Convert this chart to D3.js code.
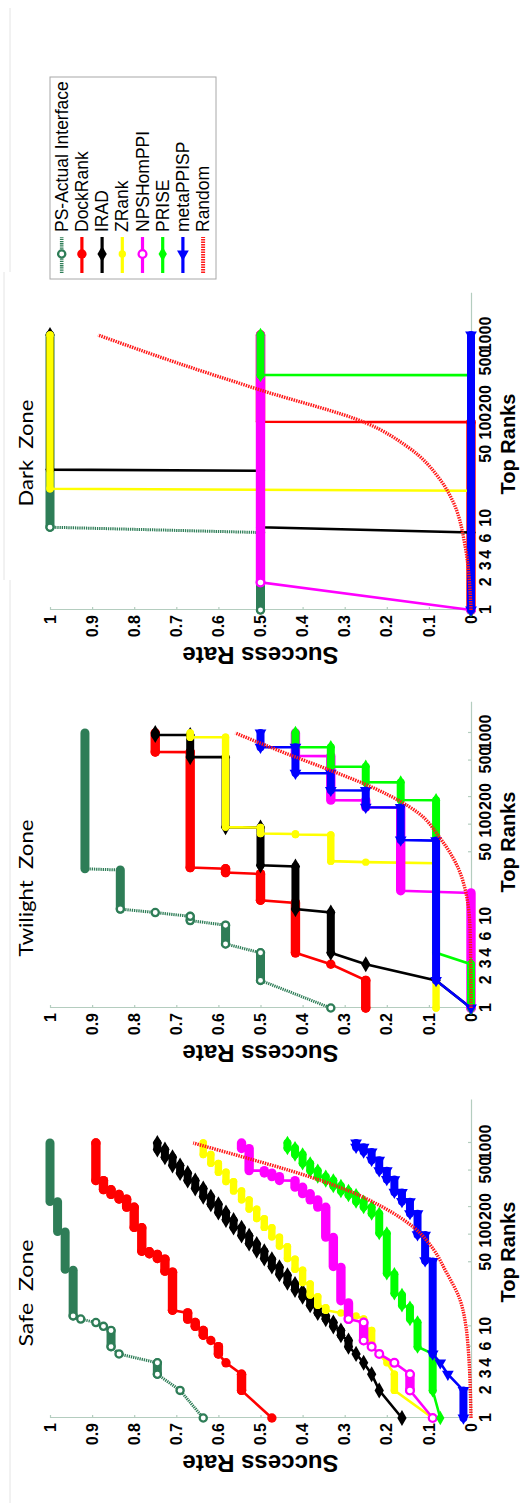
<!DOCTYPE html>
<html>
<head>
<meta charset="utf-8">
<script src="https://cdn.jsdelivr.net/npm/d3@7"></script>
<style>
  body { margin: 0; background: #fff; }
  svg { display: block; }
</style>
</head>
<body>
<div class="canvas"></div>
<script>
// methods, in legend / drawing order
const methods = ["PS-Actual Interface", "DockRank", "IRAD", "ZRank", "NPSHomPPI", "PRISE", "metaPPISP", "Random"];
const rankTicks = [1, 2, 3, 4, 6, 10, 50, 100, 200, 500, 1000];
const rateTicks = [0, 0.1, 0.2, 0.3, 0.4, 0.5, 0.6, 0.7, 0.8, 0.9, 1];
const maxRank = 1000;

// each series: [rank where a new success rate starts, success rate]
const safePS = [[1, .636], [2, .691], [3, .745], [5, .836], [6, .855], [10, .873], [11, .891], [12, .927], [13, .945], [42, .964], [108, .982], [230, 1]];
const safeDock = [[1, .473], [2, .545], [4, .582], [5, .6], [7, .618], [8, .636], [10, .655], [12, .673], [15, .709], [40, .727], [55, .745], [62, .764], [66, .782], [120, .8], [200, .818], [245, .836], [275, .855], [310, .873], [390, .891]];
const safeIRAD = [[1, .164], [2, .218], [3, .236], [4, .255], [5, .273], [6, .291], [8, .309], [10, .327], [12, .345], [14, .364], [17, .382], [21, .4], [25, .418], [30, .436], [37, .455], [45, .473], [55, .491], [67, .509], [80, .527], [98, .545], [120, .564], [145, .582], [175, .6], [215, .618], [260, .636], [320, .655], [390, .673], [470, .691], [570, .709], [700, .727], [850, .745]];
const safeZ = [[1, .091], [2, .182], [4, .2], [5, .218], [6, .236], [10, .255], [13, .273], [14, .309], [15, .345], [17, .364], [22, .382], [30, .4], [42, .418], [55, .436], [75, .455], [95, .473], [120, .491], [150, .509], [190, .527], [240, .545], [300, .564], [380, .582], [480, .6], [600, .618], [750, .636]];
const safeNPS = [[1, .091], [2, .145], [4, .182], [5, .218], [6, .236], [7, .255], [12, .291], [19, .309], [45, .327], [94, .345], [200, .364], [240, .382], [280, .4], [330, .418], [390, .455], [430, .473], [470, .491], [500, .527], [870, .545]];
const safePRISE = [[1, .073], [2, .091], [6, .127], [12, .145], [17, .164], [23, .182], [38, .2], [104, .218], [170, .236], [200, .255], [230, .273], [270, .291], [300, .309], [340, .327], [390, .345], [430, .364], [500, .382], [600, .4], [750, .418], [880, .436]];
const safeMeta = [[1, .018], [3, .055], [4, .073], [5, .091], [52, .109], [100, .127], [170, .145], [230, .164], [290, .182], [400, .2], [500, .218], [650, .236], [800, .255], [900, .273]];
const safeRandom = [[1, 0], [6, .007], [10, .012], [20, .027], [40, .06], [70, .09], [120, .136], [200, .21], [300, .29], [500, .43], [700, .54], [1000, .66]];

const twPS = [[1, .333], [2, .5], [5, .583], [9, .667], [11, .75], [12, .833], [33, .917]];
const twDock = [[1, .25], [3, .333], [4, .417], [15, .5], [30, .583], [34, .667], [620, .75]];
const twIRAD = [[1, 0], [2, .083], [3, .25], [4, .333], [12, .417], [36, .5], [94, .583], [546, .667], [950, .75]];
const twZ = [[1, .083], [39, .25], [40, .333], [78, .417], [80, .5], [94, .583], [900, .667]];
const twNPS = [[1, 0], [19, .167], [155, .25], [185, .333], [560, .417]];
const twPRISE = [[1, 0], [4, .083], [186, .167], [290, .25], [430, .333], [700, .417]];
const twMeta = [[1, 0], [2, .083], [68, .167], [155, .25], [237, .333], [365, .417], [700, .5]];
const twRandom = [[1, 0], [7, .002], [25, .02], [73, .075], [134, .125], [250, .23], [393, .335], [600, .44], [1000, .56]];

const dkPS = [[1, .5], [8, 1]];
const dkDock = [[1, 0], [113, .5]];
const dkIRAD = [[1, 0], [8, .5], [34, 1]];
const dkZ = [[1, 0], [21, 1]];
const dkNPS = [[1, 0], [2, .5]];
const dkPRISE = [[1, 0], [366, .5]];
const dkMeta = [[1, 0]];
const dkRandom = [[1, 0], [5, .014], [16, .045], [26, .072], [60, .15], [110, .25], [251, .5], [500, .7], [1000, .886]];

const styles = [
  {color: "#2e7d57", shape: "ring", r: 3.6, band: 9, width: 3, dash: "1.3,0.9"},
  {color: "#ff0000", shape: "circle", r: 4.7, band: 9.4, width: 2.6},
  {color: "#000000", shape: "diamond", size: 75, band: 8, width: 2.6},
  {color: "#ffff00", shape: "circle", r: 3.7, band: 7.4, width: 2.6},
  {color: "#ff00ff", shape: "ring", r: 3.9, band: 9.4, width: 2.6},
  {color: "#00ff00", shape: "diamond", size: 60, band: 8, width: 2.6},
  {color: "#0000ff", shape: "triangle", size: 60, band: 8, width: 2.6}
];
const randomStyle = {color: "#ff1a1a", width: 3.4, dash: "1.5,1"};

// the original figure is laid out left to right, then turned a quarter turn
const W = 1503;
const decade = 91.67;
const axisColor = "#b4cdbf";

const panels = [
  {title: "Safe  Zone", titleX: 210, titleLen: 107, x0: 85, xEnd: 2950, series: [safePS, safeDock, safeIRAD, safeZ, safeNPS, safePRISE, safeMeta], random: safeRandom},
  {title: "Twilight  Zone", titleX: 615, titleLen: 137, x0: 495, xEnd: 2170, series: [twPS, twDock, twIRAD, twZ, twNPS, twPRISE, twMeta], random: twRandom},
  {title: "Dark  Zone", titleX: 1050, titleLen: 107, x0: 893, xEnd: 2850, series: [dkPS, dkDock, dkIRAD, dkZ, dkNPS, dkPRISE, dkMeta], random: dkRandom}
];

const svg = d3.select(".canvas").append("svg").attr("width", 520).attr("height", W);

// faint frame lines left from the pasted sub-figures
const frame = [[10, 8, 272], [4, 272, 580], [10, 580, 1503]];
svg.selectAll("line.frame").data(frame).join("line").attr("class", "frame")
  .attr("x1", d => d[0]).attr("x2", d => d[0]).attr("y1", d => d[1]).attr("y2", d => d[2])
  .attr("stroke", "#e4e4e4").attr("stroke-width", 1);

const fig = svg.append("g").attr("transform", `translate(0,${W}) rotate(-90)`);
const y = d3.scaleLinear([0, 1], [471, 50]);

function marker(sel, st, px, py) {
  if (st.shape === "circle" || st.shape === "ring") {
    sel.append("circle").attr("cx", px).attr("cy", py).attr("r", st.r)
      .attr("fill", st.shape === "ring" ? "#fff" : st.color)
      .attr("stroke", st.color).attr("stroke-width", st.shape === "ring" ? 2.3 : 0);
  } else {
    const type = st.shape === "diamond" ? d3.symbolDiamond : d3.symbolTriangle;
    sel.append("path").attr("d", d3.symbol().type(type).size(st.size)())
      .attr("transform", `translate(${px},${py}) rotate(-90)`).attr("fill", st.color);
  }
}

function drawSeries(g, x, data, st) {
  const runs = data.map((d, i) => ({a: d[0], b: i < data.length - 1 ? data[i + 1][0] - 1 : maxRank, v: d[1]}));
  const pts = runs.flatMap(r => r.b > r.a ? [[r.a, r.v], [r.b, r.v]] : [[r.a, r.v]]);
  const s = g.append("g");
  s.append("path").datum(pts)
    .attr("d", d3.line().x(d => x(d[0])).y(d => y(d[1])))
    .attr("fill", "none").attr("stroke", st.color).attr("stroke-width", st.width)
    .attr("stroke-dasharray", st.dash || null);
  s.selectAll("line").data(runs.filter(r => r.b > r.a)).join("line")
    .attr("x1", r => x(r.a)).attr("x2", r => x(r.b))
    .attr("y1", r => y(r.v)).attr("y2", r => y(r.v))
    .attr("stroke", st.color).attr("stroke-width", st.band).attr("stroke-linecap", "round");
  // open markers only stay visible where the ranks are still far apart
  const shown = st.shape === "ring" ? pts.filter(p => p[0] < 15) : pts;
  shown.forEach(p => marker(s, st, x(p[0]), y(p[1])));
}

panels.forEach(p => {
  const x = d3.scaleLog([1, p.xEnd], [p.x0, p.x0 + decade * Math.log10(p.xEnd)]);
  const g = fig.append("g");

  const xAxis = g.append("g").attr("transform", `translate(0,${y(0)})`)
    .call(d3.axisBottom(x).tickValues(rankTicks).tickFormat(d3.format("d"))
      .tickSizeInner(-3).tickSizeOuter(0).tickPadding(9));
  const yAxis = g.append("g").attr("transform", `translate(${p.x0},0)`)
    .call(d3.axisLeft(y).tickValues(rateTicks).tickFormat(d3.format("~g"))
      .tickSizeInner(-3).tickSizeOuter(0).tickPadding(5));
  [xAxis, yAxis].forEach(a => {
    a.select(".domain").attr("stroke", axisColor).attr("stroke-width", 1.2);
    a.selectAll(".tick line").attr("stroke", axisColor).attr("stroke-width", 1.2);
    a.selectAll(".tick text").attr("fill", "#000")
      .style("font", "bold 16px 'Liberation Sans', Arial, sans-serif");
  });

  g.append("text").attr("x", p.x0 + 166).attr("y", 515).attr("text-anchor", "middle")
    .style("font", "bold 20px 'Liberation Sans', Arial, sans-serif").text("Top Ranks");
  g.append("text").attr("transform", `translate(${p.x0 - 37},${y(0.5)}) rotate(-90)`)
    .attr("text-anchor", "middle")
    .style("font", "bold 24px 'Liberation Sans', Arial, sans-serif").text("Success Rate");
  g.append("text").attr("x", p.titleX).attr("y", 33).attr("text-anchor", "middle")
    .attr("textLength", p.titleLen).attr("lengthAdjust", "spacingAndGlyphs")
    .style("font", "19px Lato, 'Open Sans', sans-serif").style("white-space", "pre").text(p.title);

  p.series.forEach((d, i) => drawSeries(g, x, d, styles[i]));

  g.append("path").datum(p.random)
    .attr("d", d3.line().x(d => x(d[0])).y(d => y(d[1])).curve(d3.curveMonotoneX))
    .attr("fill", "none").attr("stroke", randomStyle.color)
    .attr("stroke-width", randomStyle.width).attr("stroke-dasharray", randomStyle.dash);
});

// legend
const leg = fig.append("g").attr("transform", "translate(1224,50)");
leg.append("rect").attr("width", 202).attr("height", 166)
  .attr("fill", "#fff").attr("stroke", "#a8a8a8").attr("stroke-width", 1);
methods.forEach((m, i) => {
  const item = leg.append("g").attr("transform", `translate(0,${11.7 + 20.2 * i})`);
  const st = i < styles.length ? styles[i] : randomStyle;
  item.append("line").attr("x1", 6).attr("x2", 42).attr("y1", 0).attr("y2", 0)
    .attr("stroke", st.color).attr("stroke-width", st.width + 0.6).attr("stroke-dasharray", st.dash || null);
  if (i < styles.length) marker(item, st, 25, 0);
  item.append("text").attr("x", 47).attr("y", 0).attr("dy", "0.35em")
    .style("font", "17.5px 'Liberation Sans', Arial, sans-serif").text(m);
});
</script>
</body>
</html>
